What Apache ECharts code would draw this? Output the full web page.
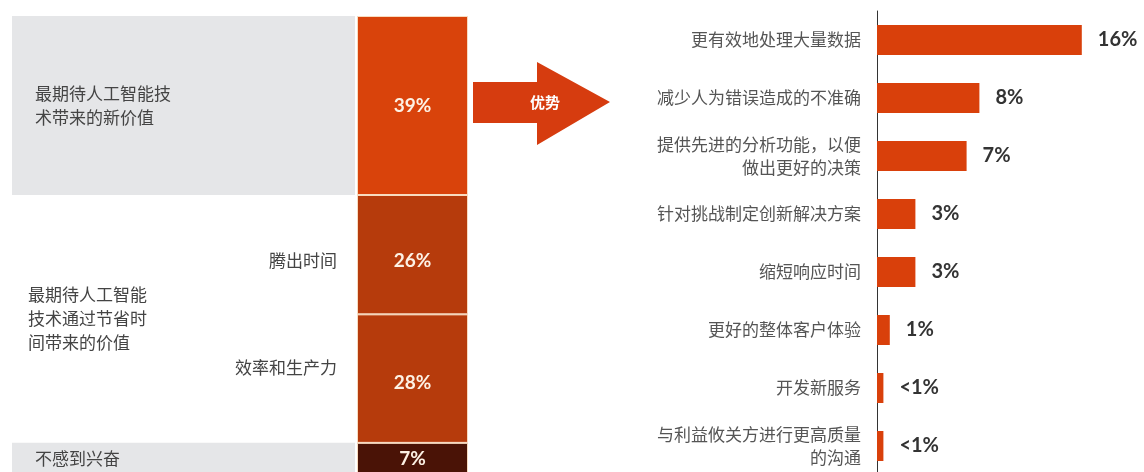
<!DOCTYPE html>
<html>
<head>
<meta charset="utf-8">
<script src="https://cdn.jsdelivr.net/npm/echarts@6/dist/echarts.min.js"></script>
<style>
  html, body { margin: 0; padding: 0; background: #fff; }
  #main { width: 1144px; height: 472px; }
</style>
</head>
<body>
<div id="main"></div>
<script>
// left column: overall split
const overallCats = ['最期待人工智能技术带来的新价值', '腾出时间', '效率和生产力', '不感到兴奋'];
const overallVals = [39, 26, 28, 7];
const bandTexts = ['最期待人工智能技\n术带来的新价值', '最期待人工智能\n技术通过节省时\n间带来的价值', '不感到兴奋'];

// right bars: benefits
const benefitCats = [
  '更有效地处理大量数据',
  '减少人为错误造成的不准确',
  '提供先进的分析功能，以便\n做出更好的决策',
  '针对挑战制定创新解决方案',
  '缩短响应时间',
  '更好的整体客户体验',
  '开发新服务',
  '与利益攸关方进行更高质量\n的沟通'
];
const benefitVals = [16, 8, 7, 3, 3, 1, 0.5, 0.5];
const benefitLabels = ['16%', '8%', '7%', '3%', '3%', '1%', '<1%', '<1%'];

const CJK = 'Noto Sans CJK SC';
const colColors = ['#d9430b', '#b63b0c', '#b63b0c', '#4a1306'];
const grey = '#e5e6e8';
const none = 'rgba(0,0,0,0)';

// band segments: top value, the "time saving" group, not excited
const bandVals = [overallVals[0], overallVals[1] + overallVals[2], overallVals[3]];

const chart = echarts.init(document.getElementById('main'));

// one series per stacked segment
let series = [];

bandVals.forEach((v, i) => {
  series.push({
    type: 'bar', xAxisIndex: 0, yAxisIndex: 0, stack: 'band',
    barWidth: '100%', barGap: '-100%', silent: true,
    itemStyle: { color: i === 1 ? none : grey },
    label: {
      show: true, position: 'insideLeft',
      distance: i === 1 ? 16 : 23,
      formatter: bandTexts[i],
      fontFamily: CJK, fontSize: 17, lineHeight: 24, color: '#444'
    },
    data: [v]
  });
});

overallVals.forEach((v, i) => {
  series.push({
    type: 'bar', xAxisIndex: 0, yAxisIndex: 0, stack: 'sub',
    barWidth: '100%', barGap: '-100%', silent: true,
    itemStyle: { color: none },
    label: {
      show: i === 1 || i === 2, position: 'insideRight', distance: 18,
      offset: i === 1 ? [0, 6] : [0, -11],
      formatter: overallCats[i],
      fontFamily: CJK, fontSize: 17, color: '#444'
    },
    data: [v]
  });
});

overallVals.forEach((v, i) => {
  series.push({
    type: 'bar', xAxisIndex: 1, yAxisIndex: 1, stack: 'col',
    barWidth: '100%',
    itemStyle: { color: colColors[i], borderColor: '#f8dcc0', borderWidth: 1 },
    label: {
      show: true, position: 'inside',
      offset: i === 1 ? [0, 6] : i === 2 ? [0, 4] : [0, 0],
      formatter: v + '%',
      fontFamily: 'Lato', fontWeight: 'bold', fontSize: 19, color: '#fdf1e4'
    },
    data: [v]
  });
});

series.push({
  type: 'bar', xAxisIndex: 2, yAxisIndex: 2,
  barWidth: 30,
  itemStyle: { color: '#d9400b' },
  label: {
    show: true, position: 'right', distance: 16,
    formatter: p => benefitLabels[p.dataIndex],
    fontFamily: 'Lato', fontWeight: 'bold', fontSize: 20, color: '#333'
  },
  data: benefitVals
});

const option = {
  backgroundColor: '#fff',
  animation: false,
  grid: [
    { left: 12, top: 16, width: 343, height: 459, outerBoundsMode: 'none' },
    { left: 357, top: 16, width: 111, height: 459, outerBoundsMode: 'none' },
    { left: 877, top: 11, width: 256, height: 464, outerBoundsMode: 'none' }
  ],
  xAxis: [
    { gridIndex: 0, type: 'category', data: ['a'], show: false },
    { gridIndex: 1, type: 'category', data: ['a'], show: false },
    { gridIndex: 2, type: 'value', min: 0, max: 20, show: false }
  ],
  yAxis: [
    { gridIndex: 0, type: 'value', min: 0, max: 100, inverse: true, show: false },
    { gridIndex: 1, type: 'value', min: 0, max: 100, inverse: true, show: false },
    {
      gridIndex: 2, type: 'category', data: benefitCats, inverse: true,
      axisLine: { show: true, lineStyle: { color: '#333', width: 1 } },
      axisTick: { show: false },
      axisLabel: {
        margin: 16, fontFamily: CJK, fontSize: 17, color: '#555',
        lineHeight: 23, align: 'right'
      }
    }
  ],
  series: series,
  graphic: [
    {
      type: 'polygon',
      shape: { points: [[473, 82], [537, 82], [537, 62], [610, 102], [537, 145], [537, 123], [473, 123]] },
      style: { fill: '#d63c0f' }
    },
    {
      type: 'text', x: 545, y: 102,
      style: {
        text: '优势', fill: '#fff', font: 'bold 15px "Noto Sans CJK SC"',
        align: 'center', verticalAlign: 'middle'
      }
    }
  ]
};

chart.setOption(option);
</script>
</body>
</html>
